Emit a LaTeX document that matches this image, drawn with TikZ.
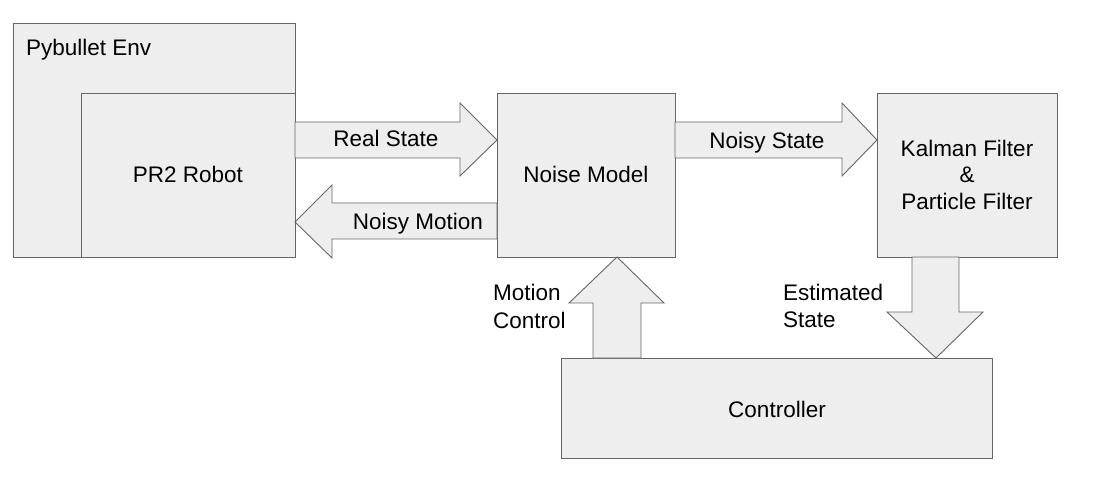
\documentclass[tikz,border=0pt]{standalone}
\usepackage{fontspec}
\setmainfont{Liberation Sans}
\definecolor{boxfill}{HTML}{EEEEEE}
\definecolor{boxline}{HTML}{666666}
\tikzset{
  blk/.style={draw=boxline, fill=boxfill, line width=0.9pt},
  lbl/.style={font=\fontsize{22.5}{27}\selectfont, text=black, inner sep=0pt, anchor=base},
  lbll/.style={lbl, anchor=base west}
}
\begin{document}
\begin{tikzpicture}[x=1pt,y=-1pt]
\useasboundingbox (0,0) rectangle (1097,502);
\fill[white] (0,0) rectangle (1097,502);
% boxes
\draw[blk] (13,23) rectangle (295,257);
\node[lbll] (env) at (26,56) {Pybullet Env};
\draw[blk] (81,93) rectangle (295,257);
\node[lbl] (robot) at (188,183) {PR2 Robot};
\draw[blk] (497,93) rectangle (675,257);
\node[lbl] (noise) at (586,183) {Noise Model};
\draw[blk] (877,93) rectangle (1057,257);
\node[lbl] (kf1) at (967,157) {Kalman Filter};
\node[lbl] (kf2) at (967,183) {\&};
\node[lbl] (kf3) at (967,210) {Particle Filter};
\draw[blk] (561,358) rectangle (992,458);
\node[lbl] (ctrl) at (777,417) {Controller};
% block arrows
\draw[blk] (295,122) -- (460,122) -- (460,103) -- (497,140) -- (460,176) -- (460,158) -- (295,158) -- cycle;
\node[lbl] (rs) at (386,147) {Real State};
\draw[blk] (497,203) -- (332,203) -- (332,185) -- (295,222) -- (332,258) -- (332,239) -- (497,239) -- cycle;
\node[lbl] (nm) at (418,230) {Noisy Motion};
\draw[blk] (675,122) -- (842,122) -- (842,103) -- (877,140) -- (842,176) -- (842,158) -- (675,158) -- cycle;
\node[lbl] (ns) at (767,149) {Noisy State};
\draw[blk] (593,358) -- (593,303) -- (569,303) -- (617,257) -- (664,303) -- (641,303) -- (641,358) -- cycle;
\node[lbll] (mc1) at (493,301) {Motion};
\node[lbll] (mc2) at (493,329) {Control};
\draw[blk] (912,257) -- (912,312) -- (887,312) -- (936,358) -- (983,312) -- (959,312) -- (959,257) -- cycle;
\node[lbll] (es1) at (783,301) {Estimated};
\node[lbll] (es2) at (783,328) {State};
\end{tikzpicture}
\end{document}
